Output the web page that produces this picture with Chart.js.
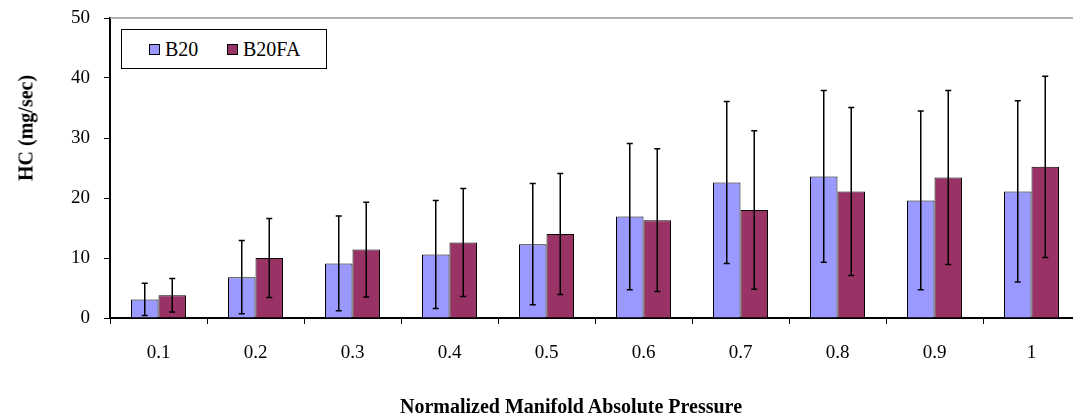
<!DOCTYPE html>
<html>
<head>
<meta charset="utf-8">
<script src="https://cdn.jsdelivr.net/npm/chart.js@4.4.1/dist/chart.umd.min.js"></script>
<style>
  body { margin: 0; overflow: hidden; background: #fff; }
  #wrap { position: relative; width: 1080px; height: 419px; }
  .ttl { position: absolute; font-family: "Liberation Serif", serif; font-weight: bold; font-size: 20px; color: #000; white-space: nowrap; }
  #ytitle { left: 26px; top: 128px; transform: translate(-50%, -50%) rotate(-90deg); }
  #xtitle { left: 571px; top: 406px; transform: translate(-50%, -50%); }
  #legend { position: absolute; left: 121px; top: 29px; width: 204px; height: 38px; border: 1px solid #000; background: #fff;
            font-family: "Liberation Serif", serif; font-size: 20px; }
  .item { position: absolute; top: 8px; line-height: 22px; }
  .sw { display: inline-block; width: 9px; height: 9px; border: 1px solid #000; margin-right: 5px; vertical-align: 1px; }
</style>
</head>
<body>
<div id="wrap">
  <canvas id="hc-chart"></canvas>
  <div id="legend">
    <span class="item" style="left:27px"><span class="sw" style="background:#9999FF"></span>B20</span>
    <span class="item" style="left:105px"><span class="sw" style="background:#993366"></span>B20FA</span>
  </div>
  <div class="ttl" id="ytitle">HC (mg/sec)</div>
  <div class="ttl" id="xtitle">Normalized Manifold Absolute Pressure</div>
</div>
<script>
// values
const categories = ['0.1', '0.2', '0.3', '0.4', '0.5', '0.6', '0.7', '0.8', '0.9', '1'];
const b20 = [3.1, 6.8, 9.1, 10.6, 12.3, 16.9, 22.6, 23.6, 19.6, 21.1];
const b20Err = [2.7, 6.1, 7.9, 9.0, 10.1, 12.2, 13.5, 14.3, 14.9, 15.1];
const b20fa = [3.8, 10.0, 11.4, 12.6, 14.0, 16.3, 18.0, 21.1, 23.4, 25.2];
const b20faErr = [2.8, 6.6, 7.9, 9.0, 10.1, 11.9, 13.2, 14.0, 14.5, 15.1];
const yMin = 0, yMax = 50, yStep = 10;

const errors = [b20Err, b20faErr];

//draws the +/- error whiskers on every bar
const errorBars = {
    id: 'errorBars',
    afterDatasetsDraw(chart) {
        const ctx = chart.ctx;
        const yScale = chart.scales.y;
        ctx.save();
        ctx.strokeStyle = '#000';
        ctx.lineWidth = 1.5;
        chart.data.datasets.forEach(function (ds, i) {
            const meta = chart.getDatasetMeta(i);
            meta.data.forEach(function (bar, j) {
                const v = ds.data[j];
                const e = errors[i][j];
                const x = bar.x;
                const top = yScale.getPixelForValue(v + e);
                const bot = yScale.getPixelForValue(Math.max(v - e, yMin));
                ctx.beginPath();
                ctx.moveTo(x, top); ctx.lineTo(x, bot);
                ctx.moveTo(x - 3, top); ctx.lineTo(x + 3, top);
                ctx.moveTo(x - 3, bot); ctx.lineTo(x + 3, bot);
                ctx.stroke();
            });
        });
        ctx.restore();
    }
};

//grey frame line along the top of the plot
const topLine = {
    id: 'topLine',
    beforeDatasetsDraw(chart) {
        const a = chart.chartArea;
        const ctx = chart.ctx;
        ctx.save();
        ctx.strokeStyle = '#999';
        ctx.lineWidth = 1.5;
        ctx.beginPath();
        ctx.moveTo(a.left, a.top);
        ctx.lineTo(a.right, a.top);
        ctx.stroke();
        ctx.restore();
    }
};

const tickFont = { family: '"Liberation Serif", "Times New Roman", serif', size: 19 };

new Chart(document.getElementById('hc-chart'), {
    type: 'bar',
    data: {
        labels: categories,
        datasets: [{
            label: 'B20',
            data: b20,
            backgroundColor: '#9999FF',
            borderColor: '#000',
            borderWidth: 1
        }, {
            label: 'B20FA',
            data: b20fa,
            backgroundColor: '#993366',
            borderColor: '#000',
            borderWidth: 1
        }]
    },
    options: {
        responsive: true,
        maintainAspectRatio: false,
        animation: false,
        layout: { padding: { top: 18, right: 0, left: 0, bottom: 0 } },
        plugins: { legend: { display: false }, tooltip: { enabled: false } },
        datasets: { bar: { categoryPercentage: 0.567, barPercentage: 1.0 } },
        scales: {
            x: {
                grid: { display: true, drawOnChartArea: false, drawTicks: true, tickLength: 6, color: '#000', offset: true },
                border: { color: '#000', width: 2 },
                ticks: { font: tickFont, color: '#000', padding: 18, maxRotation: 0 },
                afterFit: function (scale) {
                    scale.height = 101;
                    scale.paddingLeft = 0;
                    scale.paddingRight = 0;
                }
            },
            y: {
                min: yMin,
                max: yMax,
                grid: { display: true, drawOnChartArea: false, drawTicks: true, tickLength: 6, color: '#000' },
                border: { color: '#000', width: 2 },
                ticks: { stepSize: yStep, font: tickFont, color: '#000', padding: 14 },
                afterFit: function (scale) {
                    scale.width = 110;
                    //keep the plot top at the padding, not pushed by label height
                    scale.paddingTop = 0;
                    scale.paddingBottom = 0;
                }
            }
        }
    },
    plugins: [topLine, errorBars]
});
</script>
</body>
</html>
